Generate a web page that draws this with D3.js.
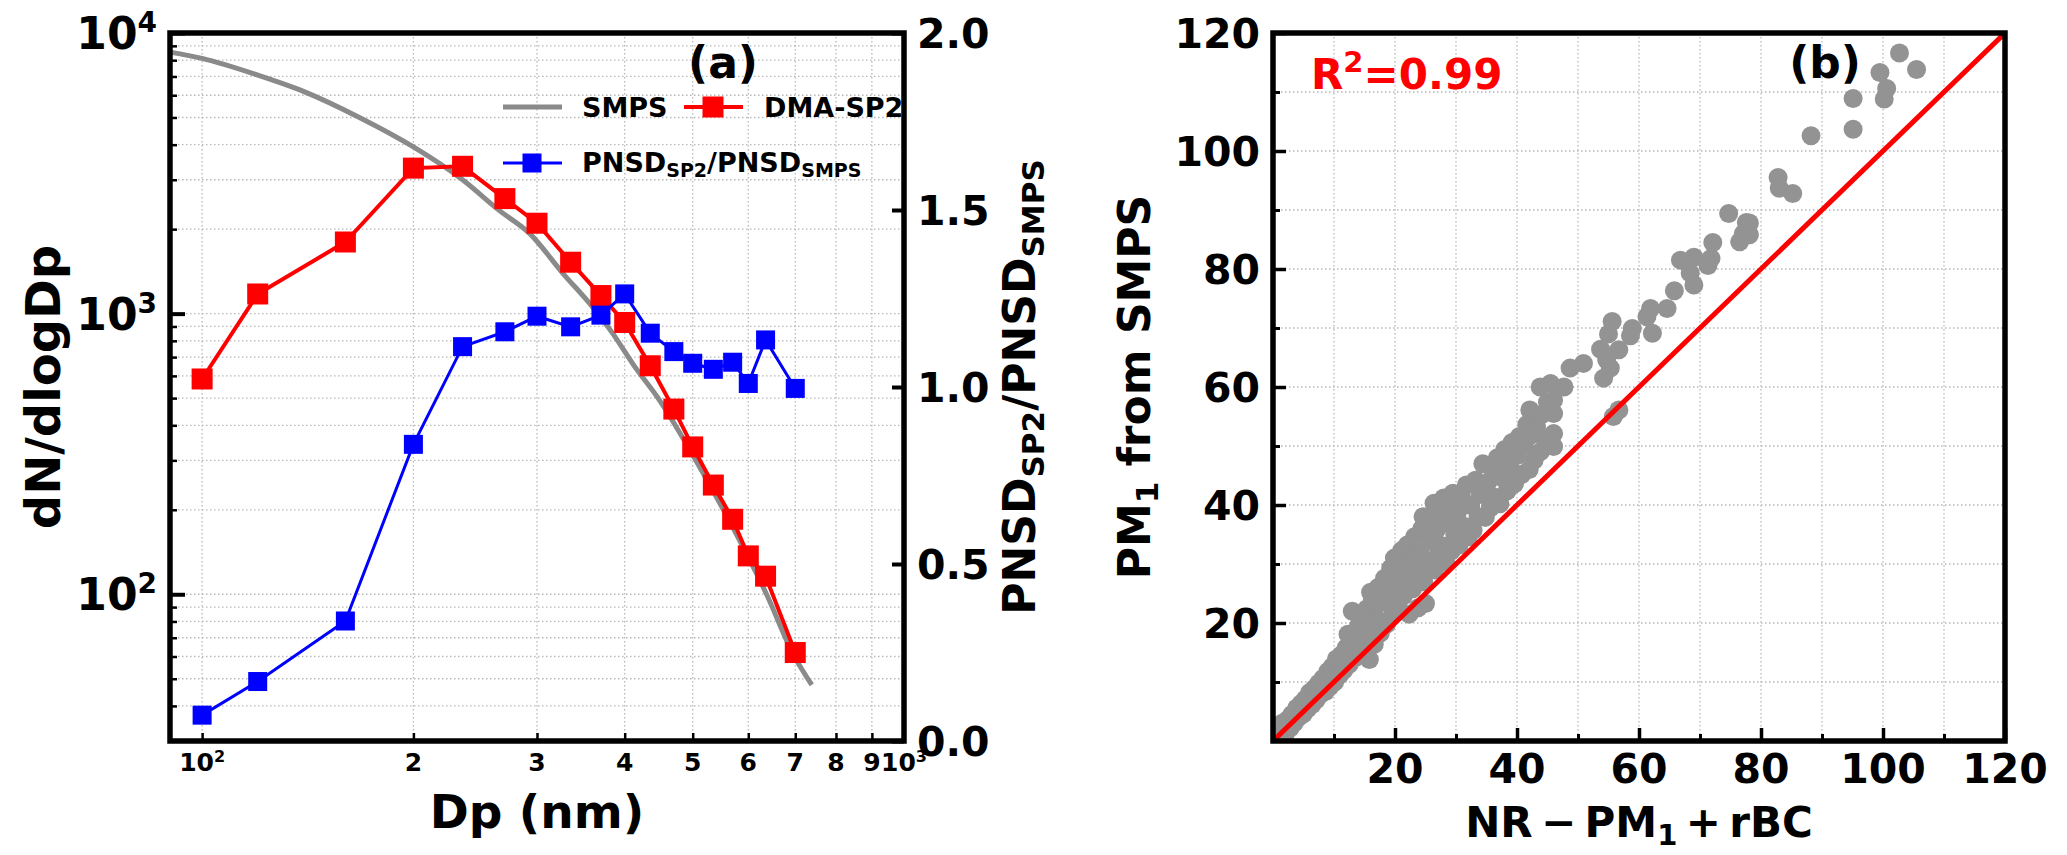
<!DOCTYPE html>
<html>
<head>
<meta charset="utf-8">
<script src="https://cdn.jsdelivr.net/npm/d3@7"></script>
<style>
  body { margin: 0; background: #fff; }
  text { font-family: "DejaVu Sans", sans-serif; font-weight: bold; }
</style>
</head>
<body>
<svg id="chart"></svg>
<script>
// ---- panel (a) data ----
const dmaDiam = [100, 120, 160, 200, 235, 270, 300, 335, 370, 400, 435, 470, 500, 535, 570, 600, 635, 700];
const dmaConc = [585, 1175, 1800, 3300, 3350, 2570, 2100, 1525, 1160, 930, 652, 457, 335, 245, 185, 137, 116, 62];
const ratioVal = [0.073, 0.168, 0.339, 0.838, 1.114, 1.156, 1.200, 1.170, 1.203, 1.263, 1.152, 1.100, 1.067, 1.050, 1.070, 1.010, 1.133, 0.996];
const smpsDiam = [90, 100, 120, 140, 167, 200, 235, 265, 293, 327, 357, 385, 411, 449, 506, 571, 637, 696, 739];
const smpsConc = [8550, 8120, 7080, 6170, 5020, 3926, 3000, 2333, 1928, 1387, 1083, 847, 661, 489, 298, 172, 100, 60.8, 47.5];

const xTicksA = [100, 200, 300, 400, 500, 600, 700, 800, 900, 1000];
const xTickLabelsA = ["10^2", "2", "3", "4", "5", "6", "7", "8", "9", "10^3"];
const yMajorA = [100, 1000, 10000];
const yMajorLabelsA = ["10^2", "10^3", "10^4"];
const yTicksA2 = [0, 0.5, 1.0, 1.5, 2.0];
const yTickLabelsA2 = ["0.0", "0.5", "1.0", "1.5", "2.0"];

// ---- panel (b) data: [NR-PM1+rBC, PM1 from SMPS] ----
const pmPoints = [
  [0.8,0.5],[1.2,2.1],[1.5,3.0],[2.0,1.2],[2.4,3.6],[2.8,2.2],[3.1,4.5],[3.5,3.1],[3.9,5.6],[4.2,4.0],
  [4.6,6.3],[5.0,4.6],[5.3,7.1],[5.7,5.5],[6.0,8.2],[6.4,6.2],[6.8,8.9],[7.1,7.0],[7.5,9.8],[7.8,7.9],
  [8.2,10.6],[8.6,8.4],[9.0,11.8],[9.3,9.2],[9.7,12.6],[10.1,10.0],[10.4,13.9],[10.9,11.2],
  [11.2,14.6],[11.6,12.0],[12.0,15.8],[12.3,18.1],[12.5,13.0],[13.0,22.0],[13.2,16.9],[13.6,14.2],
  [14.0,19.5],[14.3,15.6],[14.7,21.3],[15.0,17.0],[15.4,22.4],[15.8,13.8],[15.9,18.6],[16.0,25.2],
  [16.3,24.0],[16.6,16.4],[16.9,20.8],[17.2,26.0],[17.6,18.3],[17.9,23.5],[18.3,27.6],[18.6,19.8],
  [18.9,25.2],[19.3,29.3],[19.6,21.4],[19.9,31.0],[20.2,26.8],
  [20.5,22.7],[20.8,29.5],[21.1,32.3],[21.4,24.6],[21.7,27.9],[22.0,33.2],[22.3,21.5],[22.6,30.4],
  [22.9,25.8],[23.2,34.6],[23.5,28.6],[23.8,22.6],[24.1,32.0],[24.4,36.0],[24.6,38.0],[24.7,27.0],
  [25.0,23.3],[25.3,30.2],[25.6,37.8],[25.9,33.9],[26.4,40.3],[26.5,29.0],[26.8,35.8],[27.1,31.7],
  [27.4,38.4],[27.7,33.1],[28.0,41.2],[28.3,30.3],[28.6,36.9],[28.9,39.6],[29.2,32.2],[29.5,42.0],
  [29.8,35.0],
  [30.2,38.6],[30.5,33.2],[30.9,41.3],[31.3,36.4],[31.7,43.4],[32.0,34.6],[32.4,39.9],[32.8,35.7],
  [33.2,44.2],[33.6,38.0],[34.0,41.8],[34.4,47.0],[34.8,37.9],[35.2,43.8],[35.6,39.5],[36.0,46.1],
  [36.4,41.3],[36.8,48.0],[37.2,40.2],[37.6,44.6],[38.0,49.4],[38.4,42.4],[38.8,46.6],[39.2,50.6],
  [39.6,43.6],[40.0,48.4],[40.4,51.6],[40.8,45.2],[41.2,50.1],[41.6,53.6],[42.0,46.0],[42.1,56.1],
  [42.4,51.9],[42.8,47.6],[43.2,53.2],[43.8,60.0],[43.8,49.0],[44.2,55.4],[44.6,51.2],[45.0,57.4],
  [45.5,60.6],
  [46.0,57.8],[46.0,55.5],[46.0,52.1],[46.0,49.9],[47.7,60.0],[48.7,63.2],[50.9,64.0],[53.7,66.4],
  [54.2,61.5],[54.7,64.6],[55.0,69.0],[55.3,63.2],[55.6,71.1],[55.8,55.0],[56.7,56.1],[56.7,66.3],
  [58.6,68.7],[58.9,69.9],[61.3,71.9],[61.9,73.3],[62.2,69.1],[64.6,73.3],[65.8,76.3],[66.8,81.5],
  [68.4,79.3],[69.0,82.0],[69.0,77.3],[71.3,80.6],[71.8,81.8],[72.1,84.5],[74.7,89.4],[76.5,84.6],
  [77.1,86.0],[77.6,87.9],[78.1,87.8],[78.1,85.8],[82.8,95.5],[83.0,93.7],[85.2,92.8],[88.2,102.6],
  [95.1,103.7],[95.1,108.9],[99.5,113.3],[100.2,108.8],[100.6,110.6],[102.7,116.6],[105.5,113.8]
];
const majorTicksB = [20, 40, 60, 80, 100, 120];
const minorTicksB = [10, 30, 50, 70, 90, 110];
const gridB = [10, 20, 30, 40, 50, 60, 70, 80, 90, 100, 110];

var dimensions = { width: 2067, height: 855 };

var svg = d3.select("#chart")
    .attr("width", dimensions.width)
    .attr("height", dimensions.height);

// draws "10^2" style labels with a raised superscript
function supLabel(g, str, size, supSize, supDy) {
    var parts = str.split("^");
    var t = g.append("text").style("font-size", size + "px");
    t.append("tspan").text(parts[0]);
    if (parts.length > 1) {
        t.append("tspan").attr("dy", supDy).style("font-size", supSize + "px").text(parts[1]);
    }
    return t;
}

// ================= panel (a) =================
var boxA = { left: 170, right: 904, top: 33, bottom: 741 };

var xA = d3.scaleLog().domain([90, 1000]).range([boxA.left, boxA.right]);
var yA = d3.scaleLog().domain([30, 10000]).range([boxA.bottom, boxA.top]);
var yA2 = d3.scaleLinear().domain([0, 2]).range([boxA.bottom, boxA.top]);

var gridA = svg.append("g")
    .attr("stroke", "#b8b8b8")
    .attr("stroke-width", 1.3)
    .attr("stroke-dasharray", "1.5,2.5");

gridA.selectAll(".gxa")
    .data(xTicksA)
    .enter()
    .append("line")
    .attr("x1", d => xA(d)).attr("x2", d => xA(d))
    .attr("y1", boxA.top).attr("y2", boxA.bottom);

gridA.selectAll(".gya")
    .data(yA.ticks().filter(d => d >= 30 && d <= 10000))
    .enter()
    .append("line")
    .attr("x1", boxA.left).attr("x2", boxA.right)
    .attr("y1", d => yA(d)).attr("y2", d => yA(d));

// SMPS curve
var smpsData = smpsDiam.map((d, i) => ({ d: d, v: smpsConc[i] }));
svg.append("path")
    .datum(smpsData)
    .attr("fill", "none")
    .attr("stroke", "#8a8a8a")
    .attr("stroke-width", 5)
    .attr("d", d3.line().x(d => xA(d.d)).y(d => yA(d.v)).curve(d3.curveMonotoneX));

// DMA-SP2
var dmaData = dmaDiam.map((d, i) => ({ d: d, v: dmaConc[i] }));
svg.append("path")
    .datum(dmaData)
    .attr("fill", "none")
    .attr("stroke", "#ff0000")
    .attr("stroke-width", 4)
    .attr("d", d3.line().x(d => xA(d.d)).y(d => yA(d.v)));

svg.selectAll(".dma-pt")
    .data(dmaData)
    .enter()
    .append("rect")
    .attr("x", d => xA(d.d) - 10.5)
    .attr("y", d => yA(d.v) - 10.5)
    .attr("width", 21).attr("height", 21)
    .attr("fill", "#ff0000");

// ratio on the right axis
var ratioData = dmaDiam.map((d, i) => ({ d: d, v: ratioVal[i] }));
svg.append("path")
    .datum(ratioData)
    .attr("fill", "none")
    .attr("stroke", "#0000ff")
    .attr("stroke-width", 3)
    .attr("d", d3.line().x(d => xA(d.d)).y(d => yA2(d.v)));

svg.selectAll(".ratio-pt")
    .data(ratioData)
    .enter()
    .append("rect")
    .attr("x", d => xA(d.d) - 9.5)
    .attr("y", d => yA2(d.v) - 9.5)
    .attr("width", 19).attr("height", 19)
    .attr("fill", "#0000ff");

// ticks (inward)
svg.append("g")
    .attr("transform", `translate(0,${boxA.bottom})`)
    .call(d3.axisBottom(xA).tickValues(xTicksA).tickSize(-8).tickFormat(""))
    .call(g => g.select(".domain").remove())
    .call(g => g.selectAll("line").attr("stroke-width", 2.5));

svg.append("g")
    .attr("transform", `translate(${boxA.left},0)`)
    .call(d3.axisLeft(yA).tickValues(yA.ticks().filter(d => d >= 30 && yMajorA.indexOf(d) < 0)).tickSize(-7).tickFormat(""))
    .call(g => g.select(".domain").remove())
    .call(g => g.selectAll("line").attr("stroke-width", 2.5));

svg.append("g")
    .attr("transform", `translate(${boxA.left},0)`)
    .call(d3.axisLeft(yA).tickValues(yMajorA).tickSize(-15).tickFormat(""))
    .call(g => g.select(".domain").remove())
    .call(g => g.selectAll("line").attr("stroke-width", 4));

svg.append("g")
    .attr("transform", `translate(${boxA.right},0)`)
    .call(d3.axisRight(yA2).tickValues(yTicksA2).tickSize(-12).tickFormat(""))
    .call(g => g.select(".domain").remove())
    .call(g => g.selectAll("line").attr("stroke-width", 4));

// spines
svg.append("rect")
    .attr("x", boxA.left).attr("y", boxA.top)
    .attr("width", boxA.right - boxA.left).attr("height", boxA.bottom - boxA.top)
    .attr("fill", "none").attr("stroke", "#000").attr("stroke-width", 5.5);

// tick labels
xTicksA.forEach((d, i) => {
    supLabel(svg, xTickLabelsA[i], 25, 16, -9)
        .attr("x", xA(d)).attr("y", 771).attr("text-anchor", "middle");
});
yMajorA.forEach((d, i) => {
    supLabel(svg, yMajorLabelsA[i], 44, 28, -17)
        .attr("x", 157).attr("y", yA(d) + 16).attr("text-anchor", "end");
});
yTicksA2.forEach((d, i) => {
    svg.append("text")
        .attr("x", 917).attr("y", yA2(d) + 15)
        .style("font-size", "41px")
        .text(yTickLabelsA2[i]);
});

// axis labels
svg.append("text")
    .attr("transform", `translate(60,${(boxA.top + boxA.bottom) / 2}) rotate(-90)`)
    .attr("text-anchor", "middle")
    .style("font-size", "48px")
    .text("dN/dlogDp");

svg.append("text")
    .attr("x", (boxA.left + boxA.right) / 2).attr("y", 828)
    .attr("text-anchor", "middle")
    .style("font-size", "47px")
    .text("Dp (nm)");

var rLab = svg.append("text")
    .attr("transform", `translate(1035,${(boxA.top + boxA.bottom) / 2}) rotate(-90)`)
    .attr("text-anchor", "middle")
    .style("font-size", "44px");
rLab.append("tspan").text("PNSD");
rLab.append("tspan").attr("dy", 9).style("font-size", "31px").text("SP2");
rLab.append("tspan").attr("dy", -9).text("/PNSD");
rLab.append("tspan").attr("dy", 9).style("font-size", "31px").text("SMPS");

svg.append("text")
    .attr("x", 723).attr("y", 78)
    .attr("text-anchor", "middle")
    .style("font-size", "44px")
    .text("(a)");

// legend
var legend = svg.append("g");
legend.append("line")
    .attr("x1", 503).attr("x2", 562).attr("y1", 107).attr("y2", 107)
    .attr("stroke", "#8a8a8a").attr("stroke-width", 5);
legend.append("text").attr("x", 582).attr("y", 117).style("font-size", "27px").text("SMPS");

legend.append("line")
    .attr("x1", 684).attr("x2", 743).attr("y1", 107).attr("y2", 107)
    .attr("stroke", "#ff0000").attr("stroke-width", 4);
legend.append("rect")
    .attr("x", 713 - 10.5).attr("y", 107 - 10.5).attr("width", 21).attr("height", 21)
    .attr("fill", "#ff0000");
legend.append("text").attr("x", 764).attr("y", 117).style("font-size", "27px").text("DMA-SP2");

legend.append("line")
    .attr("x1", 503).attr("x2", 562).attr("y1", 163).attr("y2", 163)
    .attr("stroke", "#0000ff").attr("stroke-width", 3);
legend.append("rect")
    .attr("x", 532 - 9.5).attr("y", 163 - 9.5).attr("width", 19).attr("height", 19)
    .attr("fill", "#0000ff");
var lt = legend.append("text").attr("x", 582).attr("y", 172).style("font-size", "27px");
lt.append("tspan").text("PNSD");
lt.append("tspan").attr("dy", 5).style("font-size", "19px").text("SP2");
lt.append("tspan").attr("dy", -5).text("/PNSD");
lt.append("tspan").attr("dy", 5).style("font-size", "19px").text("SMPS");

// ================= panel (b) =================
var boxB = { left: 1273, right: 2005, top: 33, bottom: 741 };

var xB = d3.scaleLinear().domain([0, 120]).range([boxB.left, boxB.right]);
var yB = d3.scaleLinear().domain([0, 120]).range([boxB.bottom, boxB.top]);

var gB = svg.append("g")
    .attr("stroke", "#b8b8b8")
    .attr("stroke-width", 1.3)
    .attr("stroke-dasharray", "1.5,2.5");

gB.selectAll(".gxb")
    .data(gridB)
    .enter()
    .append("line")
    .attr("x1", d => xB(d)).attr("x2", d => xB(d))
    .attr("y1", boxB.top).attr("y2", boxB.bottom);

gB.selectAll(".gyb")
    .data(gridB)
    .enter()
    .append("line")
    .attr("x1", boxB.left).attr("x2", boxB.right)
    .attr("y1", d => yB(d)).attr("y2", d => yB(d));

svg.append("clipPath")
    .attr("id", "clipB")
    .append("rect")
    .attr("x", boxB.left).attr("y", boxB.top)
    .attr("width", boxB.right - boxB.left).attr("height", boxB.bottom - boxB.top);

var plotB = svg.append("g").attr("clip-path", "url(#clipB)");

plotB.selectAll(".pm-pt")
    .data(pmPoints)
    .enter()
    .append("circle")
    .attr("cx", d => xB(d[0]))
    .attr("cy", d => yB(d[1]))
    .attr("r", 9.5)
    .attr("fill", "#939393");

// 1:1 line
plotB.append("line")
    .attr("x1", xB(0)).attr("y1", yB(0))
    .attr("x2", xB(120)).attr("y2", yB(120))
    .attr("stroke", "#ff0000")
    .attr("stroke-width", 5);

svg.append("g")
    .attr("transform", `translate(0,${boxB.bottom})`)
    .call(d3.axisBottom(xB).tickValues(majorTicksB).tickSize(-13).tickFormat(""))
    .call(g => g.select(".domain").remove())
    .call(g => g.selectAll("line").attr("stroke-width", 3.5));
svg.append("g")
    .attr("transform", `translate(0,${boxB.bottom})`)
    .call(d3.axisBottom(xB).tickValues(minorTicksB).tickSize(-7).tickFormat(""))
    .call(g => g.select(".domain").remove())
    .call(g => g.selectAll("line").attr("stroke-width", 3));
svg.append("g")
    .attr("transform", `translate(${boxB.left},0)`)
    .call(d3.axisLeft(yB).tickValues(majorTicksB).tickSize(-13).tickFormat(""))
    .call(g => g.select(".domain").remove())
    .call(g => g.selectAll("line").attr("stroke-width", 3.5));
svg.append("g")
    .attr("transform", `translate(${boxB.left},0)`)
    .call(d3.axisLeft(yB).tickValues(minorTicksB).tickSize(-7).tickFormat(""))
    .call(g => g.select(".domain").remove())
    .call(g => g.selectAll("line").attr("stroke-width", 3));

svg.append("rect")
    .attr("x", boxB.left).attr("y", boxB.top)
    .attr("width", boxB.right - boxB.left).attr("height", boxB.bottom - boxB.top)
    .attr("fill", "none").attr("stroke", "#000").attr("stroke-width", 5.5);

majorTicksB.forEach(d => {
    svg.append("text")
        .attr("x", xB(d)).attr("y", 783)
        .attr("text-anchor", "middle")
        .style("font-size", "41px")
        .text(d);
    svg.append("text")
        .attr("x", 1260).attr("y", yB(d) + 15)
        .attr("text-anchor", "end")
        .style("font-size", "41px")
        .text(d);
});

var yLabB = svg.append("text")
    .attr("transform", `translate(1150,${(boxB.top + boxB.bottom) / 2}) rotate(-90)`)
    .attr("text-anchor", "middle")
    .style("font-size", "44px");
yLabB.append("tspan").text("PM");
yLabB.append("tspan").attr("dy", 8).style("font-size", "31px").text("1");
yLabB.append("tspan").attr("dy", -8).text(" from SMPS");

var xLabB = svg.append("text")
    .attr("x", (boxB.left + boxB.right) / 2).attr("y", 837)
    .attr("text-anchor", "middle")
    .style("font-size", "42px");
xLabB.append("tspan").text("NR\u2009\u2212\u2009PM");
xLabB.append("tspan").attr("dy", 8).style("font-size", "29px").text("1");
xLabB.append("tspan").attr("dy", -8).text("\u2009+\u2009rBC");

var r2 = svg.append("text")
    .attr("x", 1311).attr("y", 89)
    .attr("fill", "#ff0000")
    .style("font-size", "42px");
r2.append("tspan").text("R");
r2.append("tspan").attr("dy", -17).style("font-size", "29px").text("2");
r2.append("tspan").attr("dy", 17).text("=0.99");

svg.append("text")
    .attr("x", 1825).attr("y", 78)
    .attr("text-anchor", "middle")
    .style("font-size", "44px")
    .text("(b)");
</script>
</body>
</html>
